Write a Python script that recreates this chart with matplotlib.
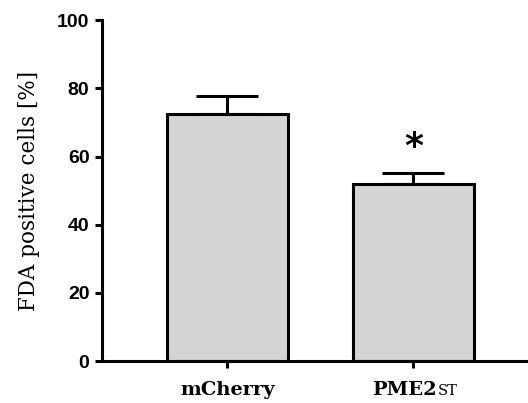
import numpy as np
import matplotlib
matplotlib.use("Agg")
import matplotlib.pyplot as plt

# values
groups = ["mCherry", "PME2"]
group_suffix = ["", "ST"]
means = [72.6, 51.8]
sems = [5.2, 3.5]
signif = ["", "*"]

fig = plt.figure(figsize=(5.28, 4.03), dpi=100)
ax = fig.add_axes([0.193, 0.104, 0.807, 0.846])

x = np.arange(len(groups))
ax.bar(x, means, width=0.653, color="#d4d4d4", edgecolor="black", linewidth=2.2, zorder=2)
ax.errorbar(x, means, yerr=[np.zeros(len(sems)), sems], fmt="none", ecolor="black",
            elinewidth=2.2, capsize=22, capthick=2.2, zorder=1)

ax.set_xlim(-0.675, 1.616)
ax.set_ylim(0, 100)
ax.set_yticks([0, 20, 40, 60, 80, 100])
for s in ["top", "right"]:
    ax.spines[s].set_visible(False)
for s in ["left", "bottom"]:
    ax.spines[s].set_linewidth(2.2)
ax.tick_params(axis="both", width=2.2, length=5, direction="out")
ax.tick_params(axis="y", pad=4)

for lab in ax.get_yticklabels():
    lab.set_fontfamily("Liberation Sans")
    lab.set_fontweight("bold")
    lab.set_fontsize(14)

ax.set_ylabel("FDA positive cells [%]", fontfamily="DejaVu Serif", fontsize=15.5, labelpad=12.5)

# x labels: group name plus small-caps style suffix
ax.set_xticks(x)
ax.set_xticklabels([])
for xi, name, suf in zip(x, groups, group_suffix):
    t = ax.annotate(name, xy=(xi, 0), xycoords=("data", "axes fraction"),
                    xytext=(-6.5 if suf else 0, -14), textcoords="offset points",
                    ha="center", va="top", fontfamily="DejaVu Serif",
                    fontweight="bold", fontsize=14)
    if suf:
        ax.annotate(suf, xy=(1, 0), xycoords=t, xytext=(0.5, 0.6), textcoords="offset points",
                    ha="left", va="bottom", fontfamily="DejaVu Serif", fontsize=10.5)

for xi, m, s, mark in zip(x, means, sems, signif):
    if mark:
        ax.annotate(mark, xy=(xi, m + s), xytext=(0, 6), textcoords="offset points",
                    ha="center", va="bottom", fontfamily="DejaVu Sans", fontweight="bold",
                    fontsize=26)

fig.savefig("out.png", dpi=100)
